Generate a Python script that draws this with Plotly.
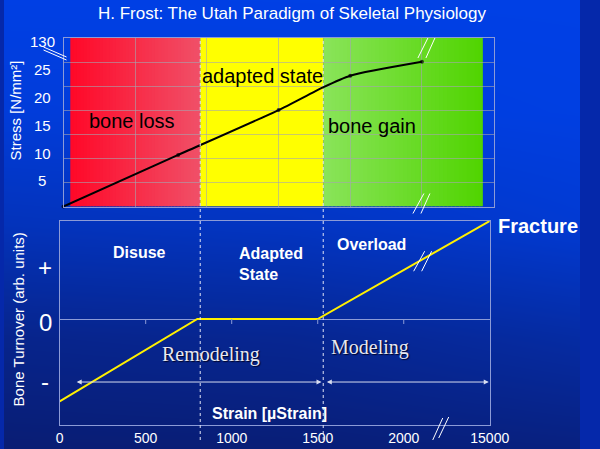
import plotly.graph_objects as go

W, H = 600, 449

# ---------------- data ----------------
# top panel: stress vs strain
stress_strain = [0, 800, 1500, 1810, 2000, 2500]
stress_vals = [0, 9.3, 17.4, 21.5, 23.6, 26.1]
stress_marker_size = [4, 4, 4, 0, 4, 4]
stress_ticks = [5, 10, 15, 20, 25, 30.2]
stress_ticktext = ["5", "10", "15", "20", "25", "130"]

zone_names = ["bone loss", "adapted state", "bone gain"]
zone_edges = [47, 954, 1814, 2925]

# bottom panel: bone turnover vs strain
turnover_strain = [0, 800, 1500, 2500]
turnover_vals = [-0.84, 0, 0, 1]
strain_ticks = [0, 500, 1000, 1500, 2000, 2500]
strain_ticktext = ["0", "500", "1000", "1500", "2000", "15000"]
thresholds = [817, 1532]
turnover_ticks = [0.53, -0.04, -0.64]
turnover_ticktext = ["+", "0", "-"]
remodeling_range = [90, 1522]
modeling_range = [1544, 2494]

# background brightness grid (bottom -> top rows)
bg_z = [
    [0.08, 0.10, 0.16],
    [0.30, 0.35, 0.50],
    [0.66, 0.72, 0.86],
    [0.90, 0.93, 0.97],
    [1.00, 1.00, 1.00],
]


def px(x):
    return x / W


def py(y):
    return 1 - y / H


def lerp_col(c0, c1, t):
    return "rgb(%d,%d,%d)" % tuple(round(a + (b - a) * t) for a, b in zip(c0, c1))


FONT = "Liberation Sans, Arial, sans-serif"
SERIF = "Liberation Serif, Times New Roman, serif"
frame_col = "rgb(140,155,215)"
grid_col = "rgba(165,165,175,0.6)"

fig = go.Figure()

# background gradient
fig.add_trace(go.Heatmap(
    z=bg_z, x=[-0.05, 0.5, 1.05], y=[-0.05, 0.25, 0.5, 0.75, 1.05],
    colorscale=[[0, "rgb(10,24,100)"], [1, "rgb(0,64,230)"]],
    zmin=0, zmax=1, zsmooth="best", showscale=False, hoverinfo="skip",
    xaxis="x", yaxis="y"))

# top curve
fig.add_trace(go.Scatter(
    x=stress_strain, y=stress_vals, mode="lines+markers",
    line=dict(color="black", width=2, shape="spline", smoothing=0.6),
    marker=dict(color="black", size=stress_marker_size, line=dict(width=0)),
    xaxis="x2", yaxis="y2", cliponaxis=False, hoverinfo="skip"))

# bottom curve
fig.add_trace(go.Scatter(
    x=turnover_strain, y=turnover_vals, mode="lines",
    line=dict(color="rgb(255,240,0)", width=2),
    xaxis="x3", yaxis="y3", cliponaxis=False, hoverinfo="skip"))

shapes = []
# zone fills (gradient strips)
zone_cols = [((255, 8, 40), (240, 80, 104)), ((255, 255, 0), (255, 255, 0)),
             ((138, 228, 90), (80, 212, 0))]
N = 40
for i in range(3):
    x0, x1 = zone_edges[i], zone_edges[i + 1]
    c0, c1 = zone_cols[i]
    n = N if c0 != c1 else 1
    for k in range(n):
        a = x0 + (x1 - x0) * k / n
        b = x0 + (x1 - x0) * (k + 1) / n
        shapes.append(dict(type="rect", xref="x2", yref="y2", x0=a,
                           x1=b + (x1 - x0) / n * 0.3 if k < n - 1 else b,
                           y0=0, y1=30.4, line=dict(width=0),
                           fillcolor=lerp_col(c0, c1, (k + 0.5) / n), layer="below"))

# dashed threshold lines through both panels
for t in thresholds:
    shapes.append(dict(type="line", xref="x3", yref="paper", x0=t, x1=t,
                       y0=py(440), y1=py(38),
                       line=dict(color="rgb(225,228,245)", width=1, dash="3px,3px"),
                       layer="above"))

# tick marks on the zero line
for t in strain_ticks[1:-1]:
    shapes.append(dict(type="line", xref="x3", yref="y3", x0=t, x1=t,
                       ysizemode="pixel", yanchor=0, y0=0, y1=-5,
                       line=dict(color=frame_col, width=1)))


def brk(xref, yref, xa, ya, segs):
    for (dx0, dy0, dx1, dy1) in segs:
        shapes.append(dict(type="line", xref=xref, yref=yref,
                           xsizemode="pixel", xanchor=xa, x0=dx0, x1=dx1,
                           ysizemode="pixel", yanchor=ya, y0=dy0, y1=dy1,
                           line=dict(color="white", width=1), layer="above"))


# axis break marks
brk("paper", "paper", px(62), py(55), [(-20, 8, 3, -2), (-20, 5, 3, -5)])
brk("x2", "paper", 2500, py(38), [(-4, -20, 6, 0), (4, -20, 13, 0)])
brk("x2", "paper", 2500, py(206.5), [(-9, -7, 2, 13), (-1, -7, 8, 13)])
brk("x3", "y3", 2110, 0.61, [(-9, -12, 2, 8), (-1, -12, 9, 8)])
brk("x3", "paper", 2215, py(425), [(-8, -15, 2, 7), (-2, -13, 8, 8)])

ann = []


def text(x, y, s, size, color="white", font=FONT, xanchor="center", **kw):
    ann.append(dict(x=px(x), y=py(y), xref="paper", yref="paper", text=s,
                    showarrow=False, xanchor=xanchor, yanchor="middle",
                    font=dict(family=font, size=size, color=color), **kw))


text(300, 13, "H. Frost: The Utah Paradigm of Skeletal Physiology", 17)
text(13, 110, "Stress [N/mm²]", 15, textangle=-90)
text(15, 319, "Bone Turnover (arb. units)", 15, textangle=-90)

for v, s in zip(stress_ticks, stress_ticktext):
    ann.append(dict(x=px(40), xref="paper", y=v, yref="y2", text=s, showarrow=False,
                    xanchor="center", yanchor="middle", yshift=-2,
                    font=dict(family=FONT, size=15, color="white")))
for v, s in zip(turnover_ticks, turnover_ticktext):
    ann.append(dict(x=px(43), xref="paper", y=v, yref="y3", text=s, showarrow=False,
                    xanchor="center", yanchor="middle",
                    font=dict(family=FONT, size=24, color="white")))

# zone labels
text(133, 121, zone_names[0], 20, color="black")
text(269, 76, zone_names[1], 20, color="black")
text(383, 126, zone_names[2], 20, color="black")

text(141, 252, "<b>Disuse</b>", 16)
text(243, 264, "<b>Adapted<br>State</b>", 16, xanchor="left", align="left")
text(383, 245, "<b>Overload</b>", 16)
text(512, 226, "<b>Fracture</b>", 20, xanchor="left")
text(277, 413, "<b>Strain [µStrain]</b>", 16)

ann.append(dict(x=px(216), y=py(368), xref="paper", yref="paper", text="Remodeling",
                showarrow=False, font=dict(family=SERIF, size=20, color="rgb(232,232,240)",
                                           shadow="1px 1px 1px rgba(0,0,30,0.9)")))
ann.append(dict(x=px(424), y=py(361), xref="paper", yref="paper", text="Modeling",
                showarrow=False, font=dict(family=SERIF, size=20, color="rgb(232,232,240)",
                                           shadow="1px 1px 1px rgba(0,0,30,0.9)")))

for r in (remodeling_range, modeling_range):
    ann.append(dict(x=r[1], y=-0.643, ax=r[0], ay=-0.643, xref="x3", yref="y3",
                    axref="x3", ayref="y3", text="", showarrow=True,
                    arrowside="end+start", arrowhead=2, arrowsize=1, arrowwidth=1,
                    arrowcolor="rgb(215,220,240)", standoff=0, startstandoff=0))

fig.update_layout(
    width=W, height=H, autosize=False, margin=dict(l=0, r=0, t=0, b=0),
    paper_bgcolor="rgb(5,40,170)", plot_bgcolor="rgba(0,0,0,0)",
    showlegend=False, shapes=shapes, annotations=ann,
    xaxis=dict(domain=[0, 1], range=[0, 1], visible=False, fixedrange=True),
    yaxis=dict(domain=[0, 1], range=[0, 1], visible=False, fixedrange=True),
    xaxis2=dict(domain=[px(62), px(510)], range=[0, 3000], anchor="y2",
                tick0=0, dtick=500, showgrid=True, gridcolor=grid_col, gridwidth=1,
                showticklabels=False, ticks="", zeroline=False,
                showline=True, mirror=True, linecolor=frame_col, linewidth=1),
    yaxis2=dict(domain=[py(206.5), py(38)], range=[0, 30.4], anchor="x2",
                tick0=0, dtick=30.4 / 7, showgrid=True, gridcolor=grid_col, gridwidth=1,
                showticklabels=False, ticks="", zeroline=False,
                showline=True, mirror=True, linecolor=frame_col, linewidth=1),
    xaxis3=dict(domain=[px(58), px(506)], range=[0, 2500], anchor="y3",
                tickmode="array", tickvals=strain_ticks, ticktext=strain_ticktext,
                tickfont=dict(family=FONT, size=14, color="white"),
                showgrid=False, ticks="", zeroline=False,
                showline=True, mirror=True, linecolor=frame_col, linewidth=1),
    yaxis3=dict(domain=[py(425), py(221)], range=[-1.0816, 1], anchor="x3",
                showticklabels=False, showgrid=False, ticks="",
                zeroline=True, zerolinecolor=frame_col, zerolinewidth=1,
                showline=True, mirror=True, linecolor=frame_col, linewidth=1),
)

fig.write_html("out.html")
